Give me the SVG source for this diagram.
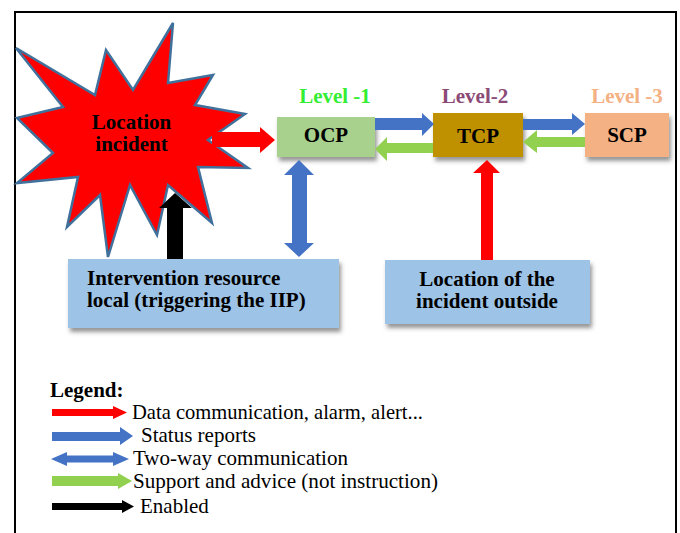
<svg xmlns="http://www.w3.org/2000/svg" width="680" height="533" viewBox="0 0 680 533">
  <defs>
    <filter id="shadow" x="-10%" y="-20%" width="130%" height="160%">
      <feDropShadow dx="2" dy="4" stdDeviation="2" flood-color="#404040" flood-opacity="0.55"/>
    </filter>
    <filter id="soft" x="-5%" y="-5%" width="110%" height="110%">
      <feGaussianBlur stdDeviation="0.4"/>
    </filter>
  </defs>
  <style>
    text { font-family: "Liberation Serif", "Times New Roman", serif; font-size: 21px; fill: #000; }
    .b { font-weight: bold; }
    .mid { text-anchor: middle; }
    .red { fill: #ff0000; }
    .blue { fill: #4472c4; }
    .green { fill: #92d050; }
    .black { fill: #000000; }
    .box { filter: url(#shadow); }
  </style>

  <rect width="680" height="533" fill="#ffffff"/>
  <!-- page frame -->
  <rect x="15" y="12" width="661" height="560" fill="none" stroke="#000" stroke-width="2"/>

  <!-- incident star -->
  <g id="location-incident">
    <polygon points="16,48 95,95 106,50 133,90 173,23 168,83 213,75 195,105 245,114 208,140 248,168 198,167 212,223 168,185 157,235 130,185 108,257 100,195 67,227 78,177 17,183 53,153 17,118 63,107"
             fill="#ff0000" stroke="#41719c" stroke-width="2.5" stroke-linejoin="miter" filter="url(#soft)"/>
    <text class="b mid" x="131.5" y="129">Location</text>
    <text class="b mid" x="131.5" y="151">incident</text>
  </g>

  <!-- command levels -->
  <g id="ocp">
    <text class="b mid" x="335" y="103" style="fill:#33ee33">Level -1</text>
    <rect class="box" x="277" y="117" width="98" height="40" fill="#a9d18e"/>
    <text class="b mid" x="326" y="142">OCP</text>
  </g>
  <g id="tcp">
    <text class="b mid" x="475" y="103" style="fill:#8c4a76">Level-2</text>
    <rect class="box" x="433" y="113" width="90" height="44" fill="#bf9000"/>
    <text class="b mid" x="478" y="143">TCP</text>
  </g>
  <g id="scp">
    <text class="b mid" x="627" y="103" style="fill:#f4b183">Level -3</text>
    <rect class="box" x="585" y="113" width="84" height="44" fill="#f4b183"/>
    <text class="b mid" x="627" y="142">SCP</text>
  </g>

  <!-- resources -->
  <g id="intervention-resource">
    <rect class="box" x="68" y="259" width="271" height="69" fill="#9dc3e6"/>
    <text class="b" x="87" y="285">Intervention resource</text>
    <text class="b" x="87" y="307">local (triggering the IIP)</text>
  </g>
  <g id="location-outside">
    <rect class="box" x="385" y="260" width="205" height="64" fill="#9dc3e6"/>
    <text class="b mid" x="487" y="286">Location of the</text>
    <text class="b mid" x="487" y="308">incident outside</text>
  </g>

  <!-- connectors -->
  <g id="connectors">
    <!-- star to OCP -->
    <polygon class="red" points="212,132 260,132 260,127 275,140 260,153 260,147 212,147"/>
    <!-- OCP to TCP status -->
    <polygon class="blue" points="375,118 422,118 422,113 434,124 422,136 422,130 375,130"/>
    <!-- TCP to OCP support -->
    <polygon class="green" points="433,143 387,143 387,137 375,149 387,161 387,153 433,153"/>
    <!-- TCP to SCP status -->
    <polygon class="blue" points="523,119 572,119 572,113 585,124 572,135 572,130 523,130"/>
    <!-- SCP to TCP support -->
    <polygon class="green" points="585,137 537,137 537,130 523,142 537,153 537,147 585,147"/>
    <!-- OCP two-way with intervention resource -->
    <polygon class="blue" points="299,160 314,175 307,175 307,243 314,243 299,257 284,243 292,243 292,175 284,175"/>
    <!-- outside location alert to TCP -->
    <polygon class="red" points="487,160 500,173 493,173 493,260 481,260 481,173 473,173"/>
    <!-- intervention resource enables the incident site -->
    <polygon class="black" points="175,193 192,208 183,208 183,259 167,259 167,208 159,208"/>
  </g>

  <!-- legend -->
  <g id="legend">
    <text class="b" x="50" y="397">Legend:</text>
    <polygon class="red" points="52,409 113,409 113,406 127,412.5 113,419 113,416 52,416"/>
    <text x="132" y="419" textLength="291" lengthAdjust="spacingAndGlyphs">Data communication, alarm, alert...</text>
    <polygon class="blue" points="52,432 120,432 120,427 133,436 120,445 120,441 52,441"/>
    <text x="141" y="442">Status reports</text>
    <polygon class="blue" points="51,459 67,452 67,455.5 113,455.5 113,452 129,459 113,466 113,462.5 67,462.5 67,466"/>
    <text x="133" y="465">Two-way communication</text>
    <polygon class="green" points="52,476 118,476 118,473 132,481 118,489 118,486 52,486"/>
    <text x="133" y="488" textLength="305" lengthAdjust="spacingAndGlyphs">Support and advice (not instruction)</text>
    <polygon class="black" points="52,503 122,503 122,500 134,506.5 122,513 122,510 52,510"/>
    <text x="140" y="513">Enabled</text>
  </g>
</svg>
